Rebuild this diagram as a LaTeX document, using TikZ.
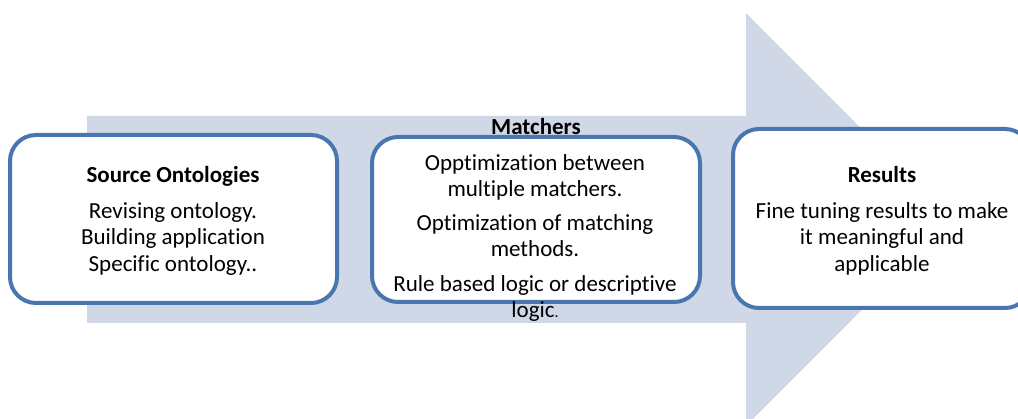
\documentclass[tikz,border=0pt]{standalone}
\usepackage{fontspec}
\setmainfont[Ligatures=NoCommon]{Carlito}
\definecolor{arrowfill}{RGB}{208,216,232}
\definecolor{boxline}{RGB}{74,118,175}
\tikzset{
  stagebox/.style={draw=boxline, line width=4pt, fill=white, rounded corners=26pt, inner sep=0pt},
  bodytext/.style={align=center, font=\fontsize{23}{26.5}\selectfont, inner sep=0pt},
  titletext/.style={font=\fontsize{23}{26.5}\selectfont\bfseries, inner sep=0pt}
}
\begin{document}
\begin{tikzpicture}[x=1pt,y=-1pt]
\useasboundingbox (0,0) rectangle (1018,419);
\clip (0,0) rectangle (1018,419);
\fill[arrowfill] (87,116) -- (746,116) -- (746,13) -- (952,219.5) -- (746,426) -- (746,323) -- (87,323) -- cycle;
\node[stagebox, minimum width=327pt, minimum height=168pt] (b1) at (173.5,219) {};
\node[stagebox, minimum width=328pt, minimum height=165pt] (b2) at (536,219.5) {};
\node[stagebox, minimum width=298pt, minimum height=179pt] (b3) at (882,218.5) {};
\node[titletext] (t1) at (173,176) {Source Ontologies};
\node[bodytext, anchor=north] (x1) at (173,202) {Revising ontology.\\Building application\\Specific ontology..};
\node[titletext] (t2) at (536,127) {Matchers};
\node[bodytext, anchor=north] (x2) at (535,154) {Opptimization between\\multiple matchers.\\[7pt]Optimization of matching\\methods.\\[8pt]Rule based logic or descriptive\\logic{\fontsize{16}{16}\selectfont.}};
\node[titletext] (t3) at (882,175) {Results};
\node[bodytext, anchor=north] (x3) at (882,202) {Fine tuning results to make\\it meaningful and\\applicable};
\end{tikzpicture}
\end{document}
